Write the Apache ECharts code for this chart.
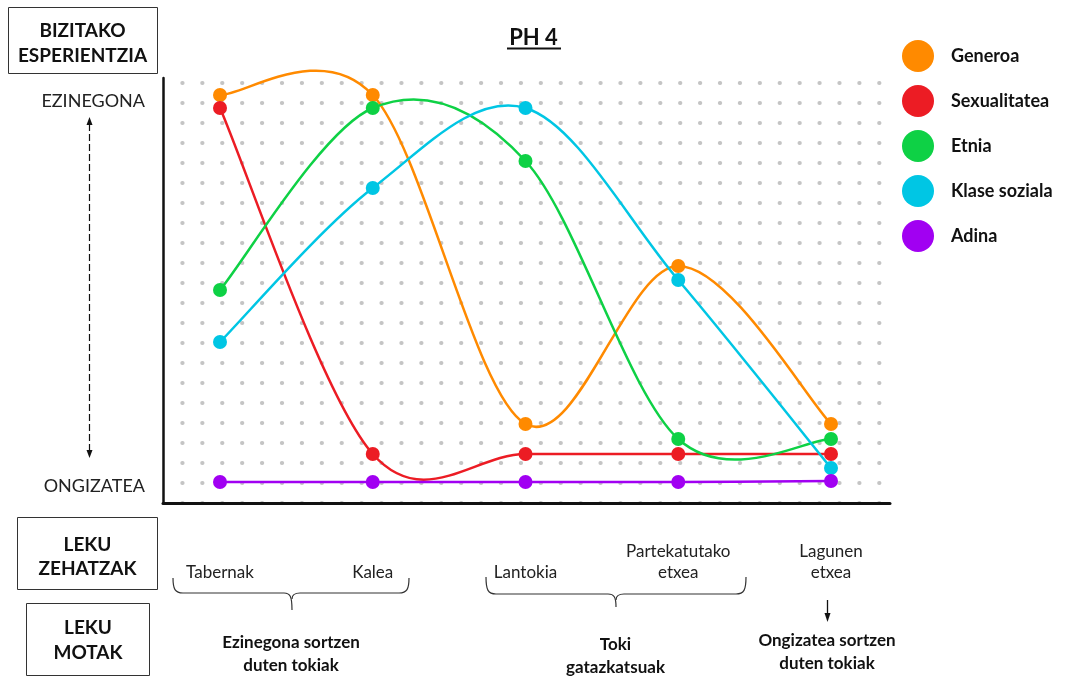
<!DOCTYPE html>
<html>
<head>
<meta charset="utf-8">
<title>PH 4</title>
<script src="https://cdn.jsdelivr.net/npm/echarts@6/dist/echarts.min.js"></script>
<style>
  html, body { margin: 0; padding: 0; background: #fff; }
  #chart { width: 1067px; height: 678px; }
</style>
</head>
<body>
<div id="chart"></div>
<script>
  // leku zehatzak (x axis)
  var categories = ['Tabernak', 'Kalea', 'Lantokia', 'Partekatutako\netxea', 'Lagunen\netxea']
  // y axis end labels
  var yTickValues = [0.85, 20.1]
  var yTickLabels = ['ONGIZATEA', 'EZINEGONA']

  var names = ['Generoa', 'Sexualitatea', 'Etnia', 'Klase soziala', 'Adina']
  var colors = ['#FF8A00', '#EC1C24', '#0ED145', '#00C6E4', '#A100F2']

  var generoa = [20.4, 20.4, 3.95, 11.85, 3.95]
  var sexualitatea = [19.75, 2.45, 2.45, 2.45, 2.45]
  var etnia = [10.65, 19.75, 17.1, 3.2, 3.2]
  var klaseSoziala = [8.05, 15.75, 19.75, 11.15, 1.75]
  var adina = [1.05, 1.05, 1.05, 1.05, 1.1]

  var allValues = [generoa, sexualitatea, etnia, klaseSoziala, adina]

  var FONT = 'Lato, "Open Sans", sans-serif'

  // smooth line like the office "smoothed line" (catmull-rom -> bezier)
  function curveSeries(name, values, color) {
    return {
      type: 'custom',
      name: name,
      xAxisIndex: 0,
      yAxisIndex: 0,
      z: 2,
      itemStyle: { color: color },
      data: values.map(function (v, i) { return [i, v] }),
      renderItem: function (params, api) {
        var i = params.dataIndex
        var n = values.length
        if (i >= n - 1) return null
        var pt = function (k) {
          k = Math.max(0, Math.min(n - 1, k))
          return api.coord([k, values[k]])
        }
        var p0 = pt(i - 1), p1 = pt(i), p2 = pt(i + 1), p3 = pt(i + 2)
        return {
          type: 'bezierCurve',
          shape: {
            x1: p1[0], y1: p1[1],
            x2: p2[0], y2: p2[1],
            cpx1: p1[0] + (p2[0] - p0[0]) / 6,
            cpy1: p1[1] + (p2[1] - p0[1]) / 6,
            cpx2: p2[0] - (p3[0] - p1[0]) / 6,
            cpy2: p2[1] - (p3[1] - p1[1]) / 6
          },
          style: { stroke: color, lineWidth: 2.5, fill: 'none' }
        }
      }
    }
  }

  var series = []
  allValues.forEach(function (vals, k) {
    series.push(curveSeries(names[k], vals, colors[k]))
  })
  allValues.forEach(function (vals, k) {
    series.push({
      type: 'scatter',
      name: names[k],
      xAxisIndex: 0,
      yAxisIndex: 0,
      z: 4,
      symbol: 'circle',
      symbolSize: 14,
      itemStyle: { color: colors[k], opacity: 1 },
      data: vals.map(function (v, i) { return [i, v] })
    })
  })

  function bold(x, y, text, size, lh) {
    return {
      type: 'text',
      style: {
        text: text, x: x, y: y,
        align: 'center', verticalAlign: 'middle',
        fontFamily: FONT, fontWeight: 'bold', fontSize: size || 17, lineHeight: lh || 23,
        fill: '#111'
      }
    }
  }
  function box(x, y, w, h) {
    return {
      type: 'rect',
      shape: { x: x, y: y, width: w, height: h },
      style: { fill: 'none', stroke: '#333', lineWidth: 1 }
    }
  }
  function line(x1, y1, x2, y2, w, dash, color) {
    return {
      type: 'line',
      shape: { x1: x1, y1: y1, x2: x2, y2: y2 },
      style: { stroke: color || '#111', lineWidth: w, lineDash: dash || null }
    }
  }
  function tri(points) {
    return { type: 'polygon', shape: { points: points }, style: { fill: '#111' } }
  }
  function curve(x1, y1, c1x, c1y, c2x, c2y, x2, y2) {
    return {
      type: 'bezierCurve',
      shape: { x1: x1, y1: y1, cpx1: c1x, cpy1: c1y, cpx2: c2x, cpy2: c2y, x2: x2, y2: y2 },
      style: { fill: 'none', stroke: '#333', lineWidth: 1.2 }
    }
  }
  // curly brace opening upwards, tip pointing down at xm
  function brace(x1, x2, ytop, ybot, xm, ytip) {
    return [
      curve(x1, ytop, x1, ybot - 4, x1 + 2, ybot, x1 + 10, ybot),
      line(x1 + 10, ybot, xm - 8, ybot, 1.2, null, '#333'),
      curve(xm - 8, ybot, xm - 2, ybot, xm, ybot + 3, xm, ytip),
      curve(xm, ybot + 6, xm, ybot + 3, xm + 2, ybot, xm + 8, ybot),
      line(xm + 8, ybot, x2 - 10, ybot, 1.2, null, '#333'),
      curve(x2 - 10, ybot, x2 - 2, ybot, x2, ybot - 4, x2, ytop)
    ]
  }

  var graphics = [
    // underline of title
    line(507, 48.5, 561, 48.5, 2),
    box(8.5, 7.5, 149, 66),
    bold(82.5, 43.5, 'BIZITAKO\nESPERIENTZIA', 19, 25),
    // dashed double arrow
    line(89.5, 124, 89.5, 451, 1.2, [7, 3]),
    tri([[86.5, 125], [92.5, 125], [89.5, 117]]),
    tri([[86.5, 450], [92.5, 450], [89.5, 458]]),
    box(17.5, 517.5, 140, 72),
    bold(87.5, 556.5, 'LEKU\nZEHATZAK', 19, 24),
    box(26.5, 603.5, 123, 72),
    bold(88, 640, 'LEKU\nMOTAK', 19, 25),
    bold(291, 654, 'Ezinegona sortzen\nduten tokiak'),
    bold(615.5, 656, 'Toki\ngatazkatsuak'),
    line(827.5, 600, 827.5, 614, 1.3),
    tri([[824.5, 613], [830.5, 613], [827.5, 622]]),
    bold(827, 652, 'Ongizatea sortzen\nduten tokiak')
  ].concat(brace(173, 409, 578, 593, 292, 610), brace(486, 746, 577, 594, 616, 607))

  var chart = echarts.init(document.getElementById('chart'))
  chart.setOption({
    animation: false,
    backgroundColor: '#fff',
    title: {
      text: 'PH 4',
      left: 'center',
      top: 22,
      textStyle: { fontFamily: FONT, fontWeight: 'bold', fontSize: 22, color: '#111' }
    },
    legend: {
      orient: 'vertical',
      left: 897,
      top: 35,
      itemWidth: 32,
      itemHeight: 32,
      itemGap: 13,
      icon: 'circle',
      data: names,
      selectedMode: false,
      textStyle: { fontFamily: FONT, fontWeight: 'bold', fontSize: 18, color: '#111', padding: [0, 0, 0, 12] }
    },
    grid: [
      { left: 220, right: 236, top: 78, bottom: 175 },
      { left: 163, right: 177, top: 78, bottom: 175 }
    ],
    xAxis: [
      {
        type: 'category',
        gridIndex: 0,
        data: categories,
        boundaryGap: false,
        axisLine: { show: false },
        axisTick: { show: false },
        axisLabel: {
          interval: 0,
          margin: 80,
          verticalAlign: 'bottom',
          lineHeight: 21,
          fontFamily: FONT,
          fontSize: 17,
          color: '#222'
        }
      },
      {
        type: 'value',
        gridIndex: 1,
        min: 0,
        max: 1,
        axisLine: { show: true, lineStyle: { color: '#111', width: 3 } },
        axisTick: { show: false },
        axisLabel: { show: false },
        splitLine: { show: false }
      }
    ],
    yAxis: [
      {
        type: 'value',
        gridIndex: 0,
        min: 0,
        max: 21.25,
        axisLine: { show: false },
        axisTick: { show: false },
        splitLine: { show: false },
        axisLabel: {
          customValues: yTickValues,
          margin: 75,
          fontFamily: FONT,
          fontSize: 18,
          color: '#222',
          formatter: function (v) {
            var k = yTickValues.indexOf(v)
            return k >= 0 ? yTickLabels[k] : ''
          }
        }
      },
      {
        type: 'value',
        gridIndex: 1,
        min: 0,
        max: 21.25,
        interval: 1,
        axisLine: { show: true, lineStyle: { color: '#111', width: 2.5 } },
        axisTick: { show: false },
        axisLabel: { show: false },
        splitLine: {
          show: true,
          showMaxLine: false,
          lineStyle: { color: '#c4c4c4', width: 4, type: [0.3, 19.61], dashOffset: 0.61, cap: 'round' }
        }
      }
    ],
    graphic: graphics,
    series: series
  })
</script>
</body>
</html>
